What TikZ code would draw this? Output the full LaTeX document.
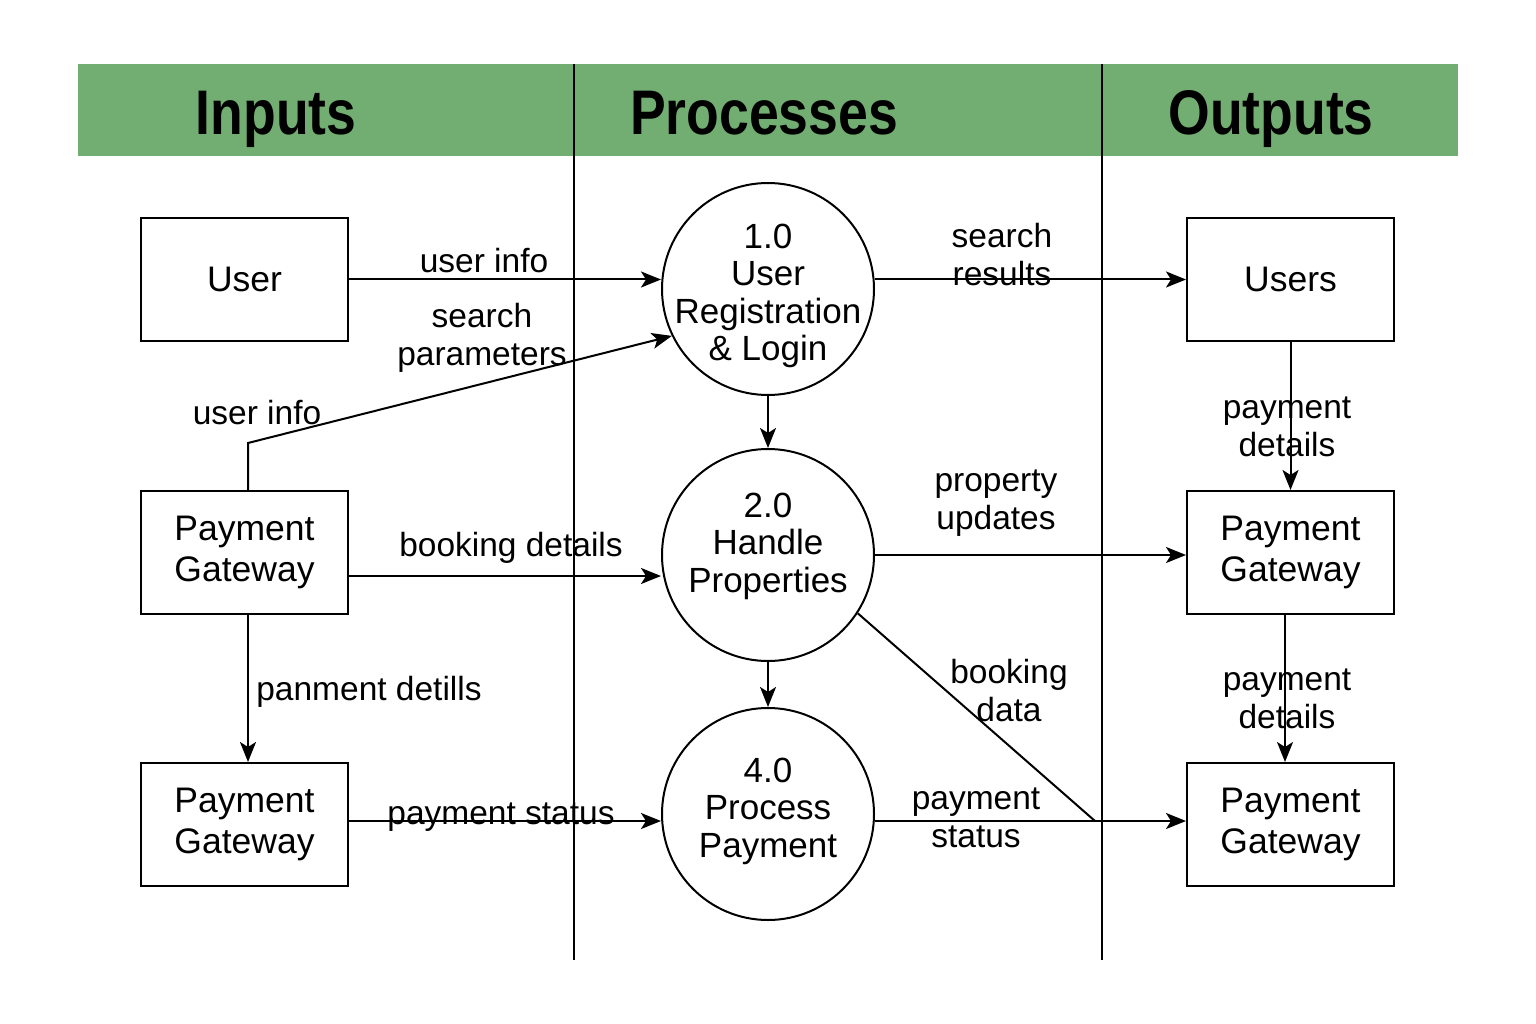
\documentclass[tikz,border=0pt]{standalone}
\usepackage{fontspec}
\setmainfont{Liberation Sans}
\usetikzlibrary{arrows.meta}
\definecolor{hdr}{HTML}{72AD72}
\begin{document}
\begin{tikzpicture}[x=1pt,y=-1pt,
  lw/.style={line width=2pt},
  flow/.style={line width=2pt, -{Stealth[length=20pt,width=16pt,inset=5pt]}},
  ent/.style={draw, line width=2pt, minimum width=207pt, minimum height=123pt, align=center, font=\fontsize{35.5}{40.5}\selectfont, inner sep=0pt},
  proc/.style={draw, circle, line width=2pt, minimum size=212pt, inner sep=0pt},
  ptext/.style={align=center, font=\fontsize{35}{37.5}\selectfont, inner sep=0pt},
  lbl/.style={align=center, font=\fontsize{33.5}{38}\selectfont, inner sep=0pt},
  hd/.style={font=\fontsize{63}{70}\selectfont\bfseries, anchor=base, inner sep=0pt}]
\useasboundingbox (0,0) rectangle (1536,1024);
\fill[white] (0,0) rectangle (1536,1024);
% header
\fill[hdr] (78,64) rectangle (1458,156);
\node[hd] (hIn) at (276,135) {\scalebox{0.85}[1]{Inputs}};
\node[hd] (hPr) at (764,135) {\scalebox{0.85}[1]{Processes}};
\node[hd] (hOut) at (1271,135) {\scalebox{0.85}[1]{Outputs}};
% column separators
\draw[lw] (574,64) -- (574,960);
\draw[lw] (1102,64) -- (1102,960);
% entities
\node[ent] (user) at (244.5,279.5) {User};
\node[ent] (pgA) at (244.5,552.5) {Payment\\Gateway};
\node[ent] (pgB) at (244.5,824.5) {Payment\\Gateway};
\node[ent] (users) at (1290.5,279.5) {Users};
\node[ent] (pgC) at (1290.5,552.5) {Payment\\Gateway};
\node[ent] (pgD) at (1290.5,824.5) {Payment\\Gateway};
% processes
\node[proc] (c1) at (768,289) {};
\node[proc] (c2) at (768,555) {};
\node[proc] (c3) at (768,814) {};
\node[ptext] (t1) at (768,296) {1.0\\User\\Registration\\\& Login};
\node[ptext] (t2) at (768,546) {2.0\\Handle\\Properties};
\node[ptext] (t3) at (768,811) {4.0\\Process\\Payment};
% helper coordinates
\coordinate (bend) at (248,443);
\coordinate (bd) at (1095,821);
% flows
\draw[flow] (user.east) -- (user.east -| c1.west);
\draw[flow] ([xshift=3.5pt]pgA.north) -- (bend) -- (c1.206);
\draw[flow] ([yshift=-23.5pt]pgA.east) -- ([yshift=-23.5pt]pgA.east -| c2.west);
\draw[flow] ([xshift=3.5pt]pgA.south) -- ([xshift=3.5pt]pgB.north);
\draw[flow] ([yshift=3.5pt]pgB.east) -- ([yshift=3.5pt]pgB.east -| c3.west);
\draw[flow] (c1.south) -- (c2.north);
\draw[flow] (c2.south) -- (c3.north);
\draw[flow] (c1.east |- users.west) -- (users.west);
\draw[flow] (c2.east) -- (c2.east -| pgC.west);
\draw[lw] (c2.-33) -- (bd);
\draw[flow] ([yshift=-7pt]c3.east) -- ([yshift=-7pt]c3.east -| pgD.west);
\draw[flow] (users.south) -- (pgC.north);
\draw[flow] ([xshift=-5.5pt]pgC.south) -- ([xshift=-5.5pt]pgD.north);
% labels
\node[lbl] (l1) at (484,261) {user info};
\node[lbl] (l2) at (482,338) {search\\parameters};
\node[lbl] (l3) at (257,413) {user info};
\node[lbl] (l4) at (511,548) {booking details};
\node[lbl] (l5) at (369,692) {panment detills};
\node[lbl] (l6) at (501,817) {payment status};
\node[lbl] (l7) at (1002,255) {search\\results};
\node[lbl] (l8) at (996,503) {property\\updates};
\node[lbl] (l9) at (1009,691) {booking\\data};
\node[lbl] (l10) at (976,818) {payment\\status};
\node[lbl] (l11) at (1287,427) {payment\\details};
\node[lbl] (l12) at (1287,699) {payment\\details};
\end{tikzpicture}
\end{document}
